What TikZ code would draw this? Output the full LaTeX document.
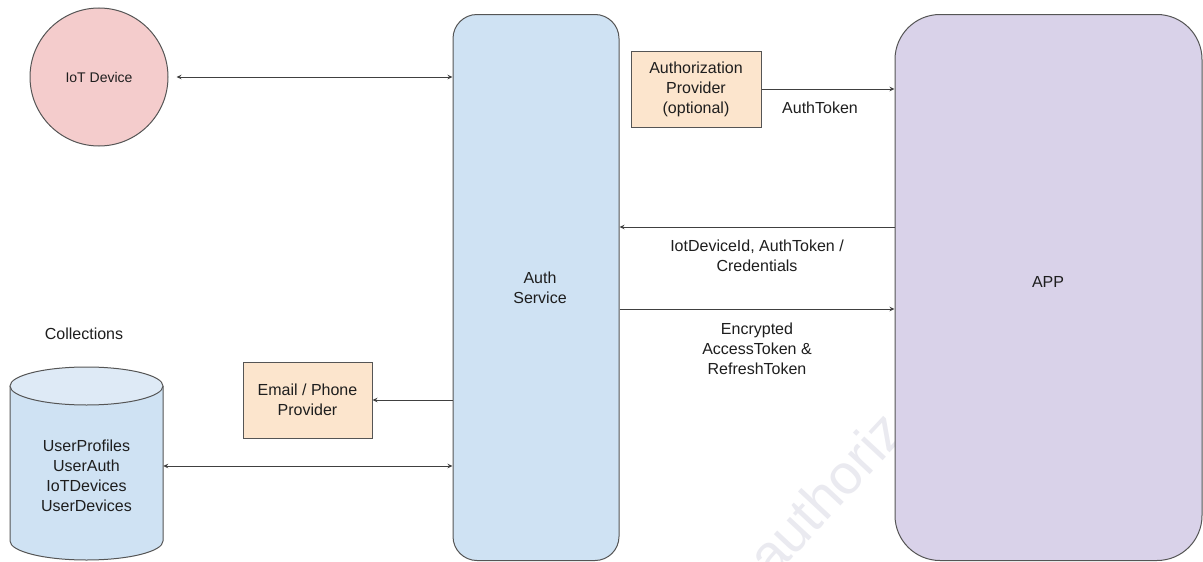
\documentclass[tikz,border=0pt]{standalone}
\usepackage{fontspec}
\setmainfont{Liberation Sans}
\usetikzlibrary{arrows.meta}
\definecolor{iotfill}{HTML}{F4CCCC}
\definecolor{authfill}{HTML}{CFE2F3}
\definecolor{appfill}{HTML}{D9D2E9}
\definecolor{provfill}{HTML}{FCE5CD}
\definecolor{dbtop}{HTML}{DEEAF6}
\definecolor{edgecol}{HTML}{555555}
\definecolor{linecol}{HTML}{404040}
\definecolor{txt}{HTML}{1E1E1E}
\definecolor{wmcol}{HTML}{EAEAF0}
\begin{document}
\begin{tikzpicture}[x=1pt,y=-1pt,
  lbl/.style={font=\fontsize{16}{20}\selectfont, text=txt, align=center, inner sep=0pt},
  box/.style={draw=edgecol, line width=1pt, inner sep=0pt},
  prov/.style={box, fill=provfill, rectangle, minimum width=130pt, minimum height=76pt,
               font=\fontsize{16}{20}\selectfont, text=txt, align=center},
  arr/.style={draw=linecol, line width=0.9pt, -{Stealth[length=5pt,width=4.5pt]}},
  darr/.style={draw=linecol, line width=0.9pt, {Stealth[length=5pt,width=4.5pt]}-{Stealth[length=5pt,width=4.5pt]}},
]
\useasboundingbox (0,0) rectangle (1203,562);
\fill[white] (0,0) rectangle (1203,562);

% watermark
\node[font=\fontsize{56}{56}\selectfont, text=wmcol, rotate=47, anchor=base west, inner sep=0pt] (wmark) at (772,580) {authoriz};

% IoT device
\node[circle, box, fill=iotfill, minimum size=138pt, text=txt, font=\fontsize{14}{16}\selectfont] (iot) at (99,77) {IoT Device};

% Auth service
\node[box, fill=authfill, rounded corners=24pt, minimum width=166pt, minimum height=546pt] (auth) at (536,287.5) {};
\node[lbl] (authlbl) at (540,288) {Auth\\Service};

% APP
\node[box, fill=appfill, rounded corners=45pt, minimum width=307pt, minimum height=546pt] (app) at (1048.5,287.5) {};
\node[lbl] (applbl) at (1048,282) {APP};

% providers
\node[prov] (ap) at (696,89) {Authorization\\Provider\\(optional)};
\node[prov, minimum width=129pt] (ep) at (307.5,400) {Email / Phone\\Provider};

% database cylinder
\node[lbl] (coll) at (84,334) {Collections};
\node[minimum width=153pt, minimum height=193pt, inner sep=0pt] (db) at (86.5,463.5) {};
\fill[authfill] (10,386) -- (10,541) arc[start angle=180, end angle=0, x radius=76.5, y radius=19] -- (163,386) -- cycle;
\draw[edgecol, line width=1pt] (10,386) -- (10,541) arc[start angle=180, end angle=0, x radius=76.5, y radius=19] -- (163,386);
\draw[edgecol, line width=1pt, fill=dbtop] (86.5,386) ellipse [x radius=76.5, y radius=19];
\node[lbl] (dbtext) at (86.5,476) {UserProfiles\\UserAuth\\IoTDevices\\UserDevices};

% helper rows
\coordinate (y227) at (0,227);
\coordinate (y309) at (0,309);
\coordinate (y466) at (0,466);

% connectors
\draw[darr] ([xshift=8pt]iot.east) -- (auth.west |- iot.east);
\draw[arr] (ap.east) -- (app.west |- ap.east);
\draw[arr] (app.west |- y227) -- (auth.east |- y227);
\draw[arr] (auth.east |- y309) -- (app.west |- y309);
\draw[arr] (auth.west |- ep.east) -- (ep.east);
\draw[darr] (db.east |- y466) -- (auth.west |- y466);

% connector labels
\node[lbl] (l1) at (820,108) {AuthToken};
\node[lbl] (l2) at (757,256) {IotDeviceId, AuthToken /\\Credentials};
\node[lbl] (l3) at (757,349) {Encrypted\\AccessToken \&\\RefreshToken};
\end{tikzpicture}
\end{document}
